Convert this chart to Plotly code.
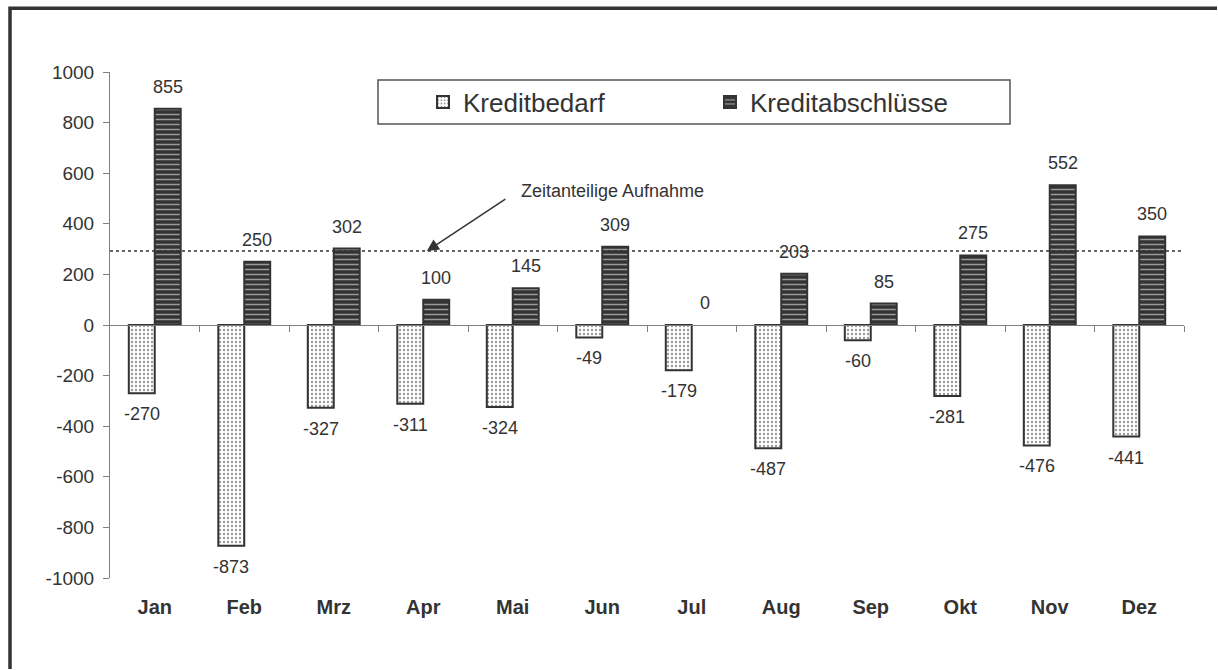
import plotly.graph_objects as go

# Monatswerte
months = ["Jan", "Feb", "Mrz", "Apr", "Mai", "Jun", "Jul", "Aug", "Sep", "Okt", "Nov", "Dez"]
kreditbedarf = [-270, -873, -327, -311, -324, -49, -179, -487, -60, -281, -476, -441]
kreditabschluesse = [855, 250, 302, 100, 145, 309, 0, 203, 85, 275, 552, 350]
zeitanteilig = 292  # zeitanteilige Aufnahme je Monat
y_ticks = list(range(-1000, 1001, 200))

FONT = "Liberation Sans, Arial, sans-serif"
INK = "#333333"
AXIS = "#808080"
BAR_W = 0.29

W, H = 1218, 670
ML, MR, MT, MB = 110, 34, 72, 92
PW, PH = W - ML - MR, H - MT - MB


def px_x(p):
    return (p - ML) / PW


def px_y(p):
    return (H - MB - p) / PH


idx = list(range(len(months)))


def outline(values):
    # keine Kontur bei Balken ohne Höhe
    return [2 if v != 0 else 0 for v in values]


fig = go.Figure()
fig.add_trace(go.Bar(
    name="Kreditbedarf", x=idx, y=kreditbedarf, width=BAR_W, offset=-BAR_W,
    marker=dict(color="white", line=dict(color=INK, width=outline(kreditbedarf)),
                pattern=dict(shape=".", fgcolor=INK, bgcolor="white", size=4, solidity=0.28)),
))
fig.add_trace(go.Bar(
    name="Kreditabschlüsse", x=idx, y=kreditabschluesse, width=BAR_W, offset=0,
    marker=dict(color=INK, line=dict(color=INK, width=outline(kreditabschluesse)),
                pattern=dict(shape="-", fgcolor="white", bgcolor=INK, size=5, solidity=0.3)),
))
# Hilfsspur für die Nulllinien-Achse
fig.add_trace(go.Scatter(x=[None], y=[None], xaxis="x2", showlegend=False, hoverinfo="skip"))

annotations = []
for i in idx:
    v = kreditbedarf[i]
    annotations.append(dict(x=i - BAR_W / 2, y=v, text=str(v), showarrow=False,
                            yshift=21 if v >= 0 else -21, yanchor="middle",
                            font=dict(size=18, color=INK, family=FONT)))
    v = kreditabschluesse[i]
    annotations.append(dict(x=i + BAR_W / 2, y=v, text=str(v), showarrow=False,
                            yshift=22 if v >= 0 else -21, yanchor="middle",
                            font=dict(size=18, color=INK, family=FONT)))

# Beschriftung der Durchschnittslinie mit Pfeil
annotations.append(dict(x=5.12, y=530, text="Zeitanteilige Aufnahme", showarrow=False,
                        font=dict(size=18, color=INK, family=FONT)))
annotations.append(dict(x=3.04, y=zeitanteilig, text="", showarrow=True, ax=80, ay=-53,
                        arrowhead=2, arrowsize=1.6, arrowwidth=1.5, arrowcolor=INK))

frame_x, frame_y = px_x(10), px_y(8.3)
shapes = [
    # Rahmen (links und oben) als offener Pfad
    dict(type="path", xref="paper", yref="paper",
         path=f"M {frame_x},{px_y(H - 1)} L {frame_x},{frame_y} L {px_x(W - 1)},{frame_y}",
         line=dict(color=INK, width=3.5), layer="above"),
    # Legendenrahmen
    dict(type="rect", xref="paper", yref="paper", x0=px_x(378), x1=px_x(1010),
         y0=px_y(124), y1=px_y(80), line=dict(color="#555555", width=1.5),
         fillcolor="white", layer="below"),
    # Zeitanteilige Aufnahme
    dict(type="line", xref="paper", yref="y", x0=0, x1=1, y0=zeitanteilig, y1=zeitanteilig,
         line=dict(color=INK, width=1.5, dash="dot")),
]

fig.update_layout(
    width=W, height=H,
    margin=dict(l=ML, r=MR, t=MT, b=MB),
    paper_bgcolor="white", plot_bgcolor="white",
    barmode="overlay",
    font=dict(family=FONT, color=INK),
    showlegend=True,
    legend=dict(orientation="h", x=px_x(423), xanchor="left", y=px_y(102), yanchor="middle",
                font=dict(size=26, color=INK, family=FONT), bgcolor="rgba(0,0,0,0)",
                borderwidth=0, entrywidth=242, itemwidth=30),
    xaxis=dict(range=[-0.5, 11.5], tickvals=idx, ticktext=months, ticks="", showline=False,
               showgrid=False, zeroline=False, ticklabelstandoff=15,
               tickfont=dict(size=20, color=INK, family=FONT, weight="bold")),
    xaxis2=dict(overlaying="x", anchor="free", position=0.5, range=[-0.5, 11.5],
                tickvals=[i + 0.5 for i in idx], showticklabels=False, ticks="outside",
                ticklen=6, tickcolor=AXIS, showline=True, linecolor=AXIS, linewidth=1,
                showgrid=False, zeroline=False),
    yaxis=dict(range=[-1000, 1000], tickvals=y_ticks, ticktext=[str(v) for v in y_ticks],
               ticks="outside", ticklen=6, ticklabelstandoff=5,
               tickcolor=AXIS, showline=True, linecolor=AXIS, linewidth=1, showgrid=False,
               zeroline=False, tickfont=dict(size=19, color=INK, family=FONT)),
    annotations=annotations,
    shapes=shapes,
)

fig.write_html("out.html")
